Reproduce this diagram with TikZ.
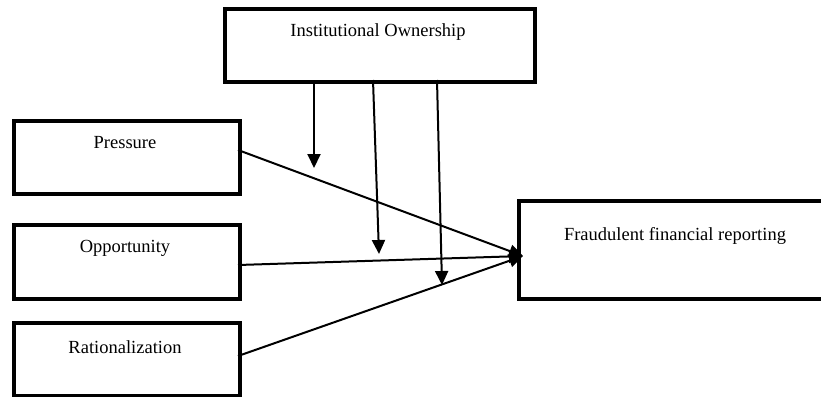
\documentclass[tikz,border=0pt]{standalone}
\usepackage{fontspec}
\setmainfont{Liberation Serif}
\usetikzlibrary{arrows.meta}
\begin{document}
\begin{tikzpicture}[x=1pt,y=-1pt,
  box/.style={draw, line width=4pt, rectangle, inner sep=0pt, anchor=north west},
  lbl/.style={font=\fontsize{18.5}{22}\selectfont, anchor=center, inner sep=0pt},
  conn/.style={line width=2pt, -{Triangle[length=14pt,width=13pt]}}]
\useasboundingbox (0,0) rectangle (821,396);
% boxes
\node[box, minimum width=310pt, minimum height=73pt] (io) at (223,7) {};
\node[box, minimum width=226pt, minimum height=73pt] (pr) at (12,119) {};
\node[box, minimum width=226pt, minimum height=74pt] (op) at (12,223) {};
\node[box, minimum width=226pt, minimum height=73pt] (ra) at (12,321) {};
\node[box, minimum width=316pt, minimum height=98pt] (ff) at (517,199) {};
% labels
\node[lbl] (tio) at (378,32) {Institutional Ownership};
\node[lbl] (tpr) at (125,143) {Pressure};
\node[lbl] (top) at (125,248) {Opportunity};
\node[lbl] (tra) at (125,347) {Rationalization};
\node[lbl] (tff) at (675,236) {Fraudulent financial reporting};
% coordinates
\coordinate (pA) at (238,150);
\coordinate (oA) at (238,265);
\coordinate (rA) at (238,356);
\coordinate (fT) at (523,256);
\coordinate (m1s) at (314,80);
\coordinate (m1e) at (314,168);
\coordinate (m2s) at (373,80);
\coordinate (m2e) at (379,254);
\coordinate (m3s) at (437,80);
\coordinate (m3e) at (442,285);
% connectors
\draw[conn] (pA) -- (fT);
\draw[conn] (oA) -- (fT);
\draw[conn] (rA) -- (fT);
\draw[conn] (m1s) -- (m1e);
\draw[conn] (m2s) -- (m2e);
\draw[conn] (m3s) -- (m3e);
\end{tikzpicture}
\end{document}
